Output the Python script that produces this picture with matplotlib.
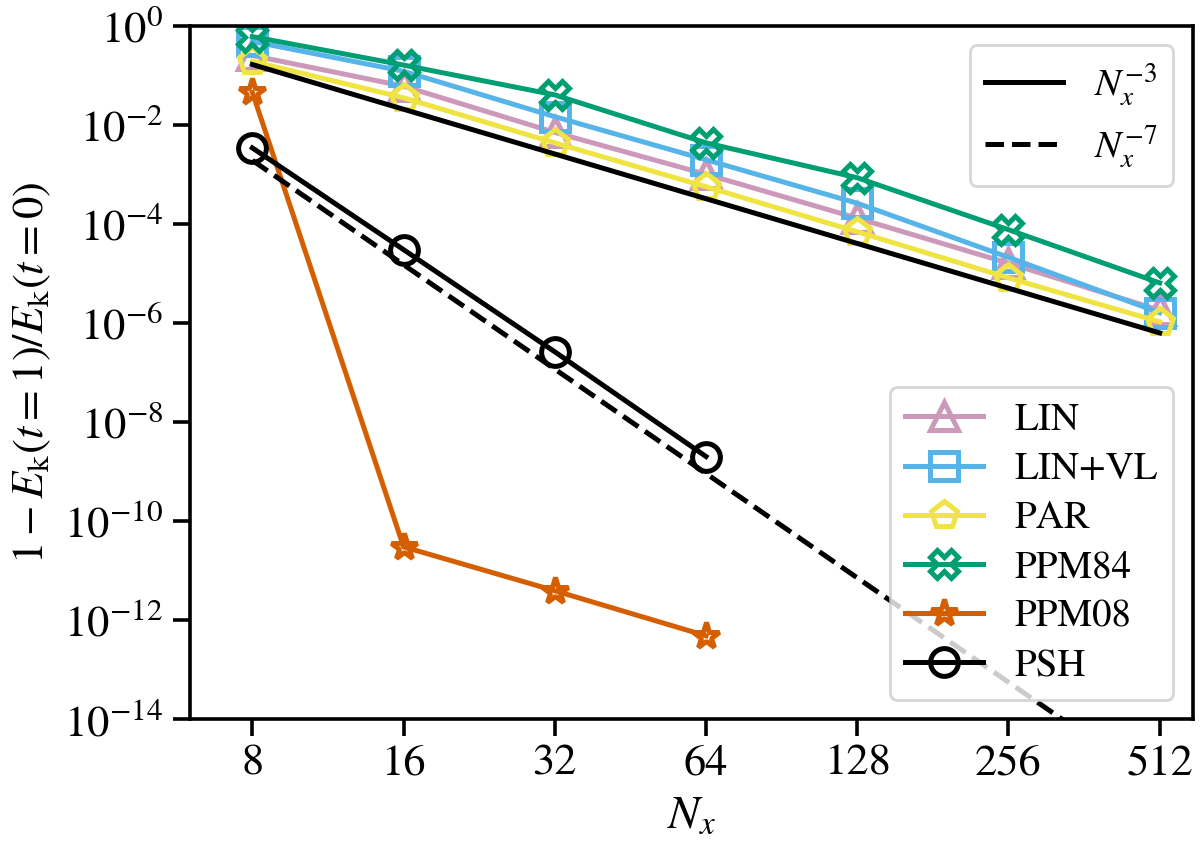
import numpy as np
import matplotlib
matplotlib.use("Agg")
import matplotlib.pyplot as plt
from matplotlib.ticker import FixedLocator, NullLocator, ScalarFormatter, LogFormatterSciNotation

plt.rcParams['font.family'] = ['STIXGeneral', 'DejaVu Serif']
plt.rcParams['mathtext.fontset'] = 'stix'

# resolution Nx and energy error for each scheme
nx = [8, 16, 32, 64, 128, 256, 512]
lin = [0.25, 0.06, 7e-3, 1.0e-3, 1.3e-4, 1.6e-5, 1.8e-6]
lin_vl = [0.48, 0.12, 1.45e-2, 1.96e-3, 2.6e-4, 2.1e-5, 1.6e-6]
par = [0.19, 0.035, 4.3e-3, 5.6e-4, 6.9e-5, 8.1e-6, 1.05e-6]
ppm84 = [0.6, 0.16, 0.04, 4.3e-3, 8.5e-4, 7.6e-5, 6.4e-6]
ppm08 = [0.045, 3e-11, 3.9e-12, 4.8e-13]
psh = [3.4e-3, 3e-5, 2.6e-7, 2e-9]

# reference slopes
c3 = 84.0
c7 = 4000.0

fig = plt.figure(figsize=(6, 4.275), dpi=200)
ax = fig.add_axes([0.158, 0.159, 0.836, 0.811])

kw = dict(lw=1.8, ms=10, mew=1.8, mfc='none')
ax.plot(nx, lin, marker='^', color='#cc99bb', label='LIN', **kw)
ax.plot(nx, lin_vl, marker='s', color='#56b4e9', label='LIN+VL', **kw)
ax.plot(nx, par, marker='p', color='#f0e442', label='PAR', **kw)
ax.plot(nx, ppm84, marker='X', color='#009e73', label='PPM84', **kw)
ax.plot(nx[:4], ppm08, marker='*', color='#d55e00', label='PPM08', **kw)
ax.plot(nx[:4], psh, marker='o', color='k', label='PSH', **kw)

n = np.array(nx, dtype=float)
r3, = ax.plot(n, c3 * n**-3, 'k-', lw=1.8)
r7, = ax.plot(n, c7 * n**-7, 'k--', lw=1.8)

ax.set_xscale('log', base=2)
ax.set_yscale('log')
ax.set_xlim(6.0, 596)
ax.set_ylim(1e-14, 1)

ax.xaxis.set_major_locator(FixedLocator(nx))
ax.xaxis.set_major_formatter(ScalarFormatter())
ax.xaxis.set_minor_locator(NullLocator())
ax.yaxis.set_major_locator(FixedLocator([10.0**k for k in range(-14, 1, 2)]))
ax.yaxis.set_major_formatter(LogFormatterSciNotation())
ax.yaxis.set_minor_locator(NullLocator())

ax.tick_params(labelsize=16, length=6, width=1.3)
for s in ax.spines.values():
    s.set_linewidth(1.3)

ax.set_xlabel(r'$N_x$', fontsize=17)
ax.set_ylabel(r'$1-E_\mathrm{k}(t=1)/E_\mathrm{k}(t=0)$', fontsize=16)

leg1 = ax.legend([r3, r7], [r'$N_x^{-3}$', r'$N_x^{-7}$'], loc='upper right',
                 fontsize=14, labelspacing=0.4)
ax.add_artist(leg1)
ax.legend(loc='lower right', fontsize=14, labelspacing=0.36)

fig.savefig('out.png', dpi=200)
